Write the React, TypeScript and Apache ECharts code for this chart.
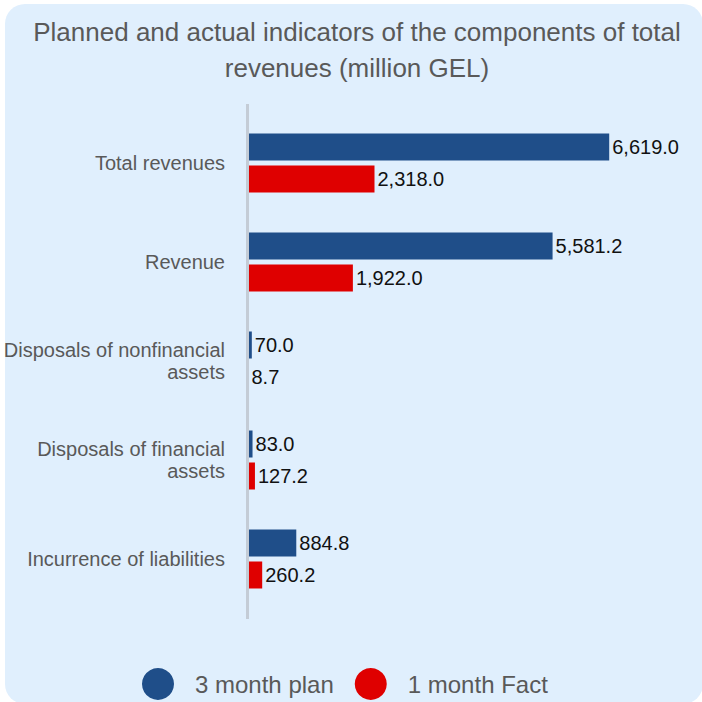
import React, { useEffect, useRef } from "react";
import * as echarts from "echarts";

const categories = [
  "Total revenues",
  "Revenue",
  "Disposals of nonfinancial\nassets",
  "Disposals of financial\nassets",
  "Incurrence of liabilities",
];
const planValues = [6619.0, 5581.2, 70.0, 83.0, 884.8];
const factValues = [2318.0, 1922.0, 8.7, 127.2, 260.2];
const seriesNames = ["3 month plan", "1 month Fact"];
const titleText = "Planned and actual indicators of the components of total\nrevenues (million GEL)";

const fmt = (v: number) =>
  v.toLocaleString("en-US", { minimumFractionDigits: 1, maximumFractionDigits: 1 });

export default function App() {
  const ref = useRef<HTMLDivElement>(null);
  useEffect(() => {
    document.body.style.margin = "0";
    if (!ref.current) return;
    const chart = echarts.init(ref.current, null, { renderer: "svg" });
    const font = "Arial, 'Liberation Sans', sans-serif";
    chart.setOption({
      animation: false,
      textStyle: { fontFamily: font },
      title: {
        text: titleText,
        left: 352,
        top: 9,
        textAlign: "center",
        textStyle: {
          fontFamily: font,
          fontSize: 26,
          fontWeight: "normal",
          color: "#595959",
          lineHeight: 36,
        },
      },
      graphic: [
        {
          type: "rect",
          z: -10,
          silent: true,
          shape: { x: 5, y: 4, width: 698, height: 700, r: 20 },
          style: { fill: "#e0effd" },
        },
        {
          type: "line",
          z: 10,
          silent: true,
          shape: { x1: 247.5, y1: 104, x2: 247.5, y2: 619 },
          style: { stroke: "#c4ccd6", lineWidth: 3 },
        },
      ],
      legend: {
        data: seriesNames,
        left: 137,
        top: 663,
        icon: "circle",
        itemWidth: 32,
        itemHeight: 32,
        itemGap: 21,
        textStyle: {
          fontFamily: font,
          fontSize: 24,
          color: "#595959",
          padding: [0, 0, 0, 16],
        },
      },
      grid: { left: 248, top: 113.5, height: 495, right: 72, containLabel: false },
      xAxis: {
        type: "value",
        min: 0,
        max: 7000,
        show: false,
      },
      yAxis: {
        type: "category",
        data: categories,
        inverse: true,
        axisLine: { show: false },
        axisTick: { show: false },
        axisLabel: {
          margin: 23,
          fontFamily: font,
          fontSize: 20,
          lineHeight: 22,
          color: "#595959",
          align: "right",
        },
      },
      series: [
        {
          name: seriesNames[0],
          type: "bar",
          data: planValues,
          barWidth: 27,
          barGap: "18.5%",
          itemStyle: { color: "#1f4e89" },
          label: {
            show: true,
            position: "right",
            distance: 3,
            formatter: (p: any) => fmt(p.value),
            fontFamily: font,
            fontSize: 20,
            color: "#111111",
          },
        },
        {
          name: seriesNames[1],
          type: "bar",
          data: factValues,
          barWidth: 27,
          barGap: "18.5%",
          itemStyle: { color: "#df0000" },
          label: {
            show: true,
            position: "right",
            distance: 3,
            formatter: (p: any) => fmt(p.value),
            fontFamily: font,
            fontSize: 20,
            color: "#111111",
          },
        },
      ],
    });
    return () => chart.dispose();
  }, []);
  return <div ref={ref} style={{ width: 702, height: 702 }} />;
}
